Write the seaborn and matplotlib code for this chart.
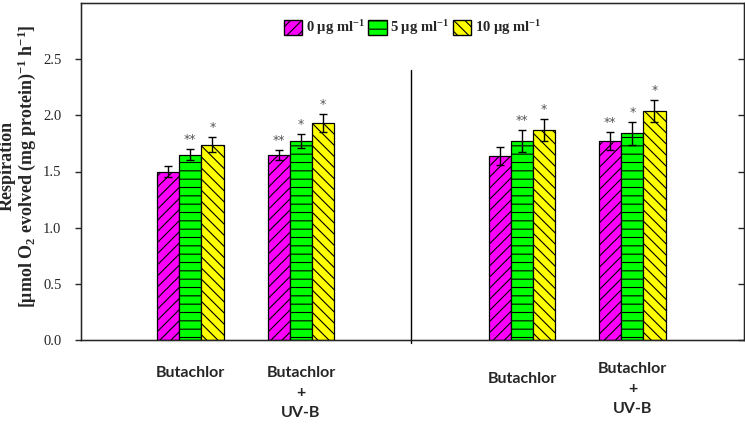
import numpy as np
import pandas as pd
import matplotlib
matplotlib.use("Agg")
import matplotlib.pyplot as plt
from matplotlib.patches import Patch
import seaborn as sns

# ---- data ----
groups = ["Butachlor (A)", "Butachlor + UV-B (A)", "Butachlor (B)", "Butachlor + UV-B (B)"]
group_labels = ["Butachlor", "Butachlor\n+\nUV-B", "Butachlor", "Butachlor\n+\nUV-B"]
concs = ["0 μg ml$^{-1}$", "5 μg ml$^{-1}$", "10 μg ml$^{-1}$"]
vals_0 = [1.50, 1.65, 1.64, 1.77]
vals_5 = [1.65, 1.77, 1.77, 1.84]
vals_10 = [1.74, 1.93, 1.87, 2.04]
err_0 = [0.05, 0.045, 0.08, 0.08]
err_5 = [0.05, 0.065, 0.10, 0.10]
err_10 = [0.07, 0.08, 0.10, 0.10]
sig_0 = ["", "**", "", "**"]
sig_5 = ["**", "*", "**", "*"]
sig_10 = ["*", "*", "*", "*"]
yticks = [0.0, 0.5, 1.0, 1.5, 2.0, 2.5]

colors = ["#FF00FF", "#00FF00", "#FFFF00"]
hatches = ["///", "--", "\\\\\\"]

rows = []
for c, v, e, s in zip(concs, [vals_0, vals_5, vals_10], [err_0, err_5, err_10], [sig_0, sig_5, sig_10]):
    for g, vv, ee, ss in zip(groups, v, e, s):
        rows.append(dict(group=g, conc=c, value=vv, err=ee, sig=ss))
df = pd.DataFrame(rows)

order = [groups[0], groups[1], "gap", groups[2], groups[3]]

sns.set_style("ticks")
plt.rcParams["font.family"] = ["Liberation Serif", "DejaVu Sans"]
plt.rcParams["mathtext.fontset"] = "custom"
plt.rcParams["mathtext.rm"] = "Liberation Serif:bold"
plt.rcParams["mathtext.bf"] = "Liberation Serif:bold"
plt.rcParams["mathtext.it"] = "Liberation Serif:bold:italic"
plt.rcParams["hatch.linewidth"] = 0.8

fig = plt.figure(figsize=(7.45, 4.29), dpi=100)
ax = fig.add_axes([81 / 745, 1 - 340 / 429, 663 / 745, 337 / 429])

sns.barplot(data=df, x="group", y="value", hue="conc", order=order, hue_order=concs,
            palette=colors, width=0.6, gap=0, saturation=1, errorbar=None,
            edgecolor="black", linewidth=0.9, ax=ax, legend=False)

bar_conts = list(ax.containers)
lookup = {(r.group, r.conc): r for r in df.itertuples()}
for ci, cont in enumerate(bar_conts):
    for bar in cont:
        bar.set_hatch(hatches[ci])
        bar.set_edgecolor("black")
        h = bar.get_height()
        if not np.isfinite(h) or h == 0:
            continue
        xc = bar.get_x() + bar.get_width() / 2
        g = order[int(round(xc))]
        r = lookup[(g, concs[ci])]
        ax.errorbar(xc, r.value, yerr=r.err, color="black", lw=1, capsize=3, capthick=1, zorder=5)
        if r.sig:
            ax.annotate(r.sig, (xc, r.value + r.err), xytext=(0, 2), textcoords="offset points",
                        ha="center", va="bottom", fontsize=9, color="#555555",
                        family="DejaVu Sans")

ax.set_xlim(-0.99, 5.01)
ax.set_ylim(0, 3.0)
ax.set_yticks(yticks)
ax.set_yticklabels([f"{t:.1f}" for t in yticks], fontsize=10.5)
ax.tick_params(axis="y", direction="out", length=4, width=1, pad=10)

ax.set_xticks([0, 1, 3, 4])
ax.set_xticklabels(group_labels, fontsize=11.5, fontweight="bold", family="Lato", linespacing=1.55)
ax.tick_params(axis="x", length=0, pad=19)
for i, tk in enumerate(ax.xaxis.get_major_ticks()):
    if i == 2:
        tk.set_pad(23)
    elif i == 3:
        tk.set_pad(16)
ax.set_xlabel("")

ax.set_ylabel("Respiration\n[μmol O$_2$ evolved (mg protein)$^{-1}$ h$^{-1}$]",
              fontsize=13, fontweight="bold", linespacing=1.0)
ax.yaxis.set_label_coords((38 - 81) / 663, (340 - 166) / 337)

for sp in ax.spines.values():
    sp.set_visible(True)
    sp.set_color("black")
    sp.set_linewidth(1)

ax2 = ax.twinx()
ax2.set_ylim(ax.get_ylim())
ax2.set_yticks(yticks)
ax2.tick_params(axis="y", direction="in", length=4, width=1, labelright=False)

ax.axvline(2, ymin=-0.01, ymax=0.80, color="black", lw=1, clip_on=False)

handles = [Patch(facecolor=c, edgecolor="black", hatch=h, label=l) for c, h, l in zip(colors, hatches, concs)]
ax.legend(handles=handles, loc="center", bbox_to_anchor=(0.5, 1 - 25 / 337), ncol=3, frameon=False,
          handlelength=1.25, handleheight=1.25, handletextpad=0.25, columnspacing=0.25,
          prop=dict(family="Liberation Serif", weight="bold", size=10.5))

fig.savefig("out.png", dpi=100)
